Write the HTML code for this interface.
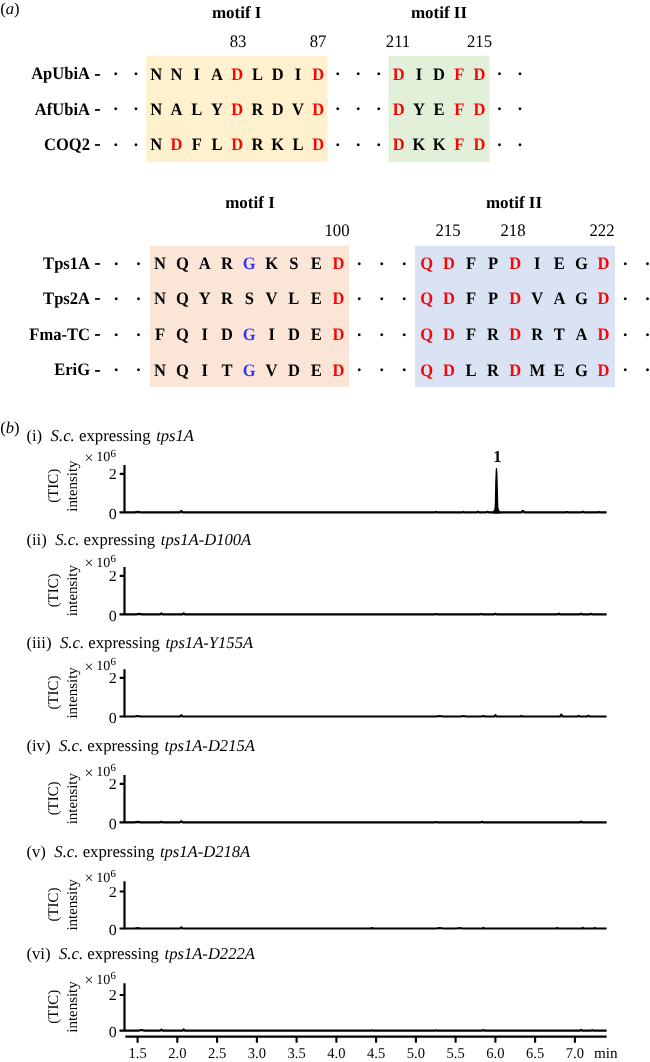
<!DOCTYPE html>
<html lang="en">
<head>
<meta charset="utf-8">
<title>Motif alignment and GC-MS chromatograms</title>
<style>
html,body{margin:0;padding:0;background:#fff}
body{width:650px;height:1062px;overflow:hidden;position:relative}
svg{display:block;position:absolute;left:0;top:0}
text{font-family:"Liberation Serif", "DejaVu Serif", serif;white-space:pre;text-rendering:geometricPrecision}
</style>
</head>
<body>
<svg width="650" height="1062" viewBox="0 0 650 1062">
<rect x="146.1" y="55.8" width="181.4" height="106.3" fill="#fff1cd"/>
<rect x="388.4" y="55.8" width="101.1" height="106.3" fill="#e2efd9"/>
<rect x="149.8" y="245.7" width="199.3" height="141.2" fill="#fbe5d6"/>
<rect x="415" y="245.7" width="200" height="141.4" fill="#dae3f3"/>
<text x="0.2" y="13.9" font-size="16.6">(<tspan font-style="italic">a</tspan>)</text>
<text x="236.7" y="18.1" font-size="17" text-anchor="middle" font-weight="bold">motif I</text>
<text x="439" y="18.1" font-size="17" text-anchor="middle" font-weight="bold">motif II</text>
<text transform="translate(238 46.8) scale(0.95 1)" font-size="17.6" text-anchor="middle">83</text>
<text transform="translate(318 46.8) scale(0.95 1)" font-size="17.6" text-anchor="middle">87</text>
<text transform="translate(398 46.8) scale(0.95 1)" font-size="17.6" text-anchor="middle">211</text>
<text transform="translate(479.5 46.8) scale(0.95 1)" font-size="17.6" text-anchor="middle">215</text>
<text transform="scale(0.945 1)" font-size="17.5" font-weight="bold" text-anchor="middle"><tspan text-anchor="end" x="95.24" y="79.4">ApUbiA</tspan><tspan text-anchor="end" x="106.14" y="78.7" stroke="#000" stroke-width="0.5">-</tspan><tspan x="122.54 143.92" y="80" font-size="19">··</tspan><tspan x="165.40 186.83 208.25 229.68" y="79.7">NNIA</tspan><tspan x="251.11" y="79.7" fill="#fa0505">D</tspan><tspan x="272.54 293.97 315.40" y="79.7">LDI</tspan><tspan x="336.83" y="79.7" fill="#fa0505">D</tspan><tspan x="357.35 379.05 400.74" y="80" font-size="19">···</tspan><tspan x="421.90" y="79.7" fill="#fa0505">D</tspan><tspan x="443.28 464.66" y="79.7">ID</tspan><tspan x="486.03 507.41" y="79.7" fill="#fa0505">FD</tspan><tspan x="528.57 550.26" y="80" font-size="19">··</tspan></text>
<text transform="scale(0.945 1)" font-size="17.5" font-weight="bold" text-anchor="middle"><tspan text-anchor="end" x="95.24" y="114.7">AfUbiA</tspan><tspan text-anchor="end" x="106.14" y="114" stroke="#000" stroke-width="0.5">-</tspan><tspan x="122.54 143.92" y="115.3" font-size="19">··</tspan><tspan x="165.40 186.83 208.25 229.68" y="115">NALY</tspan><tspan x="251.11" y="115" fill="#fa0505">D</tspan><tspan x="272.54 293.97 315.40" y="115">RDV</tspan><tspan x="336.83" y="115" fill="#fa0505">D</tspan><tspan x="357.35 379.05 400.74" y="115.3" font-size="19">···</tspan><tspan x="421.90" y="115" fill="#fa0505">D</tspan><tspan x="443.28 464.66" y="115">YE</tspan><tspan x="486.03 507.41" y="115" fill="#fa0505">FD</tspan><tspan x="528.57 550.26" y="115.3" font-size="19">··</tspan></text>
<text transform="scale(0.945 1)" font-size="17.5" font-weight="bold" text-anchor="middle"><tspan text-anchor="end" x="95.24" y="150">COQ2</tspan><tspan text-anchor="end" x="106.14" y="149.3" stroke="#000" stroke-width="0.5">-</tspan><tspan x="122.54 143.92" y="150.6" font-size="19">··</tspan><tspan x="165.40" y="150.3">N</tspan><tspan x="186.83" y="150.3" fill="#fa0505">D</tspan><tspan x="208.25 229.68" y="150.3">FL</tspan><tspan x="251.11" y="150.3" fill="#fa0505">D</tspan><tspan x="272.54 293.97 315.40" y="150.3">RKL</tspan><tspan x="336.83" y="150.3" fill="#fa0505">D</tspan><tspan x="357.35 379.05 400.74" y="150.6" font-size="19">···</tspan><tspan x="421.90" y="150.3" fill="#fa0505">D</tspan><tspan x="443.28 464.66" y="150.3">KK</tspan><tspan x="486.03 507.41" y="150.3" fill="#fa0505">FD</tspan><tspan x="528.57 550.26" y="150.6" font-size="19">··</tspan></text>
<text x="250" y="208" font-size="17" text-anchor="middle" font-weight="bold">motif I</text>
<text x="514" y="208" font-size="17" text-anchor="middle" font-weight="bold">motif II</text>
<text transform="translate(337 235.5) scale(0.95 1)" font-size="17.6" text-anchor="middle">100</text>
<text transform="translate(448 235.5) scale(0.95 1)" font-size="17.6" text-anchor="middle">215</text>
<text transform="translate(513 235.5) scale(0.95 1)" font-size="17.6" text-anchor="middle">218</text>
<text transform="translate(602 235.5) scale(0.95 1)" font-size="17.6" text-anchor="middle">222</text>
<text transform="scale(0.945 1)" font-size="17.5" font-weight="bold" text-anchor="middle"><tspan text-anchor="end" x="95.24" y="269">Tps1A</tspan><tspan text-anchor="end" x="106.14" y="268.3" stroke="#000" stroke-width="0.5">-</tspan><tspan x="123.07 146.56" y="269.6" font-size="19">··</tspan><tspan x="169.42 193.02 216.61 240.21" y="269.3">NQAR</tspan><tspan x="263.81" y="269.3" fill="#3333ff">G</tspan><tspan x="287.41 311.01 334.60" y="269.3">KSE</tspan><tspan x="358.20" y="269.3" fill="#fa0505">D</tspan><tspan x="380.21 404.02 427.83" y="269.6" font-size="19">···</tspan><tspan x="451.64 475.03" y="269.3" fill="#fa0505">QD</tspan><tspan x="498.41 521.80" y="269.3">FP</tspan><tspan x="545.19" y="269.3" fill="#fa0505">D</tspan><tspan x="568.57 591.96 615.34" y="269.3">IEG</tspan><tspan x="638.73" y="269.3" fill="#fa0505">D</tspan><tspan x="661.69 685.19" y="269.6" font-size="19">··</tspan></text>
<text transform="scale(0.945 1)" font-size="17.5" font-weight="bold" text-anchor="middle"><tspan text-anchor="end" x="95.24" y="303.9">Tps2A</tspan><tspan text-anchor="end" x="106.14" y="303.2" stroke="#000" stroke-width="0.5">-</tspan><tspan x="123.07 146.56" y="304.5" font-size="19">··</tspan><tspan x="169.42 193.02 216.61 240.21 263.81 287.41 311.01 334.60" y="304.2">NQYRSVLE</tspan><tspan x="358.20" y="304.2" fill="#fa0505">D</tspan><tspan x="380.21 404.02 427.83" y="304.5" font-size="19">···</tspan><tspan x="451.64 475.03" y="304.2" fill="#fa0505">QD</tspan><tspan x="498.41 521.80" y="304.2">FP</tspan><tspan x="545.19" y="304.2" fill="#fa0505">D</tspan><tspan x="568.57 591.96 615.34" y="304.2">VAG</tspan><tspan x="638.73" y="304.2" fill="#fa0505">D</tspan><tspan x="661.69 685.19" y="304.5" font-size="19">··</tspan></text>
<text transform="scale(0.945 1)" font-size="17.5" font-weight="bold" text-anchor="middle"><tspan text-anchor="end" x="95.24" y="339.9">Fma-TC</tspan><tspan text-anchor="end" x="106.14" y="339.2" stroke="#000" stroke-width="0.5">-</tspan><tspan x="123.07 146.56" y="340.5" font-size="19">··</tspan><tspan x="169.42 193.02 216.61 240.21" y="340.2">FQID</tspan><tspan x="263.81" y="340.2" fill="#3333ff">G</tspan><tspan x="287.41 311.01 334.60" y="340.2">IDE</tspan><tspan x="358.20" y="340.2" fill="#fa0505">D</tspan><tspan x="380.21 404.02 427.83" y="340.5" font-size="19">···</tspan><tspan x="451.64 475.03" y="340.2" fill="#fa0505">QD</tspan><tspan x="498.41 521.80" y="340.2">FR</tspan><tspan x="545.19" y="340.2" fill="#fa0505">D</tspan><tspan x="568.57 591.96 615.34" y="340.2">RTA</tspan><tspan x="638.73" y="340.2" fill="#fa0505">D</tspan><tspan x="661.69 685.19" y="340.5" font-size="19">··</tspan></text>
<text transform="scale(0.945 1)" font-size="17.5" font-weight="bold" text-anchor="middle"><tspan text-anchor="end" x="95.24" y="375.4">EriG</tspan><tspan text-anchor="end" x="106.14" y="374.7" stroke="#000" stroke-width="0.5">-</tspan><tspan x="123.07 146.56" y="376" font-size="19">··</tspan><tspan x="169.42 193.02 216.61 240.21" y="375.7">NQIT</tspan><tspan x="263.81" y="375.7" fill="#3333ff">G</tspan><tspan x="287.41 311.01 334.60" y="375.7">VDE</tspan><tspan x="358.20" y="375.7" fill="#fa0505">D</tspan><tspan x="380.21 404.02 427.83" y="376" font-size="19">···</tspan><tspan x="451.64 475.03" y="375.7" fill="#fa0505">QD</tspan><tspan x="498.41 521.80" y="375.7">LR</tspan><tspan x="545.19" y="375.7" fill="#fa0505">D</tspan><tspan x="568.57 591.96 615.34" y="375.7">MEG</tspan><tspan x="638.73" y="375.7" fill="#fa0505">D</tspan><tspan x="661.69 685.19" y="376" font-size="19">··</tspan></text>
<text x="0.2" y="432.6" font-size="16.6">(<tspan font-style="italic">b</tspan>)</text>
<text x="26.4" y="440.5" font-size="16.75">(i)&#160; <tspan font-style="italic">S.c.</tspan> expressing <tspan font-style="italic" dx="1.4" font-size="16.6">tps1A</tspan></text>
<text><tspan x="84.5" y="463" font-size="15.8">×</tspan><tspan x="92.75" y="461.3" font-size="14.1"> 10</tspan><tspan x="110.4" y="457.2" font-size="10.9">6</tspan></text>
<text transform="translate(116.7 478.9) scale(1.05 1)" font-size="15.3" text-anchor="end">2</text>
<text transform="translate(116.7 519) scale(1.05 1)" font-size="15.3" text-anchor="end">0</text>
<text transform="translate(58 485.8) rotate(-90)" font-size="14.9" text-anchor="middle">(TIC)</text>
<text transform="translate(77 486.1) rotate(-90)" font-size="14.9" text-anchor="middle">intensity</text>
<path d="M124.5 465V513.3M119.7 473.8H124.5M119.5 512.3H124.5" stroke="#000" stroke-width="2.2" fill="none"/>
<path d="M124.5 512.3L134.6 512.3L137.6 511.8L140.6 512.3L180.1 512.3L181.3 511L182.5 512.3L434.7 512.3L435.7 511.9L436.7 512.3L462.5 512.3L463.5 511.9L464.5 512.3L476.9 512.3L477.9 511.8L478.9 512.3L486.4 512.3L487.4 511.8L488.4 512.3L521.6 512.3L522.8 510.8L524.0 512.3L565.9 512.3L566.9 511.9L567.9 512.3L581.8 512.3L582.8 511.8L583.8 512.3L597.7 512.3L598.7 511.9L599.7 512.3L606.6 512.3" stroke="#000" stroke-width="2.2" stroke-linejoin="round" fill="none"/>
<text x="26.4" y="544.9" font-size="16.75">(ii)&#160; <tspan font-style="italic">S.c.</tspan> expressing <tspan font-style="italic" dx="1.4" font-size="16.6">tps1A-D100A</tspan></text>
<text><tspan x="84.5" y="568.4" font-size="15.8">×</tspan><tspan x="92.75" y="566.7" font-size="14.1"> 10</tspan><tspan x="110.4" y="561.8" font-size="10.9">6</tspan></text>
<text transform="translate(116.7 580.9) scale(1.05 1)" font-size="15.3" text-anchor="end">2</text>
<text transform="translate(116.7 621) scale(1.05 1)" font-size="15.3" text-anchor="end">0</text>
<text transform="translate(58 590.4) rotate(-90)" font-size="14.9" text-anchor="middle">(TIC)</text>
<text transform="translate(77 590.7) rotate(-90)" font-size="14.9" text-anchor="middle">intensity</text>
<path d="M124.5 567V615.3M119.7 575.8H124.5M119.5 614.3H124.5" stroke="#000" stroke-width="2.2" fill="none"/>
<path d="M124.5 614.3L136.2 614.3L139.2 613.8L142.2 614.3L160.2 614.3L161.4 613.5L162.6 614.3L182.5 614.3L183.7 613.3L184.9 614.3L434.7 614.3L435.7 614L436.7 614.3L480.0 614.3L481.0 613.9L482.0 614.3L494.4 614.3L495.4 613.8L496.4 614.3L557.9 614.3L558.9 613.6L559.9 614.3L580.2 614.3L581.2 613.8L582.2 614.3L589.8 614.3L590.8 613.8L591.8 614.3L606.6 614.3" stroke="#000" stroke-width="2.2" stroke-linejoin="round" fill="none"/>
<text x="26.4" y="647.7" font-size="16.75">(iii)&#160; <tspan font-style="italic">S.c.</tspan> expressing <tspan font-style="italic" dx="1.4" font-size="16.6">tps1A-Y155A</tspan></text>
<text><tspan x="84.5" y="671.9" font-size="15.8">×</tspan><tspan x="92.75" y="670.2" font-size="14.1"> 10</tspan><tspan x="110.4" y="665.3" font-size="10.9">6</tspan></text>
<text transform="translate(116.7 683) scale(1.05 1)" font-size="15.3" text-anchor="end">2</text>
<text transform="translate(116.7 723.2) scale(1.05 1)" font-size="15.3" text-anchor="end">0</text>
<text transform="translate(58 692.6) rotate(-90)" font-size="14.9" text-anchor="middle">(TIC)</text>
<text transform="translate(77 692.9) rotate(-90)" font-size="14.9" text-anchor="middle">intensity</text>
<path d="M124.5 669.2V717.5M119.7 677.9H124.5M119.5 716.5H124.5" stroke="#000" stroke-width="2.2" fill="none"/>
<path d="M124.5 716.5L134.6 716.5L137.6 716L140.6 716.5L180.1 716.5L181.3 715.2L182.5 716.5L435.7 716.5L439.7 716L443.7 716.5L460.5 716.5L463.5 716L466.5 716.5L481.4 716.5L483.4 716L485.4 716.5L494.2 716.5L495.4 715.1L496.6 716.5L520.4 716.5L521.6 715.9L522.8 716.5L560.1 716.5L561.3 714.6L562.5 716.5L577.3 716.5L578.8 715.9L580.3 716.5L586.9 716.5L588.4 715.8L589.9 716.5L606.6 716.5" stroke="#000" stroke-width="2.2" stroke-linejoin="round" fill="none"/>
<text x="26.4" y="750.5" font-size="16.75">(iv)&#160; <tspan font-style="italic">S.c.</tspan> expressing <tspan font-style="italic" dx="1.4" font-size="16.6">tps1A-D215A</tspan></text>
<text><tspan x="84.5" y="777.9" font-size="15.8">×</tspan><tspan x="92.75" y="776.2" font-size="14.1"> 10</tspan><tspan x="110.4" y="771.3" font-size="10.9">6</tspan></text>
<text transform="translate(116.7 788.9) scale(1.05 1)" font-size="15.3" text-anchor="end">2</text>
<text transform="translate(116.7 829) scale(1.05 1)" font-size="15.3" text-anchor="end">0</text>
<text transform="translate(58 798.4) rotate(-90)" font-size="14.9" text-anchor="middle">(TIC)</text>
<text transform="translate(77 798.7) rotate(-90)" font-size="14.9" text-anchor="middle">intensity</text>
<path d="M124.5 775V823.3M119.7 783.8H124.5M119.5 822.3H124.5" stroke="#000" stroke-width="2.2" fill="none"/>
<path d="M124.5 822.3L134.6 822.3L137.6 821.9L140.6 822.3L160.2 822.3L161.4 821.9L162.6 822.3L180.1 822.3L181.3 821.2L182.5 822.3L434.7 822.3L435.7 822L436.7 822.3L480.8 822.3L481.8 821.8L482.8 822.3L580.2 822.3L581.2 821.7L582.2 822.3L606.6 822.3" stroke="#000" stroke-width="2.2" stroke-linejoin="round" fill="none"/>
<text x="26.4" y="857.1" font-size="16.75">(v)&#160; <tspan font-style="italic">S.c.</tspan> expressing <tspan font-style="italic" dx="1.4" font-size="16.6">tps1A-D218A</tspan></text>
<text><tspan x="84.5" y="883.4" font-size="15.8">×</tspan><tspan x="92.75" y="881.7" font-size="14.1"> 10</tspan><tspan x="110.4" y="876.8" font-size="10.9">6</tspan></text>
<text transform="translate(116.7 896.6) scale(1.05 1)" font-size="15.3" text-anchor="end">2</text>
<text transform="translate(116.7 935.2) scale(1.05 1)" font-size="15.3" text-anchor="end">0</text>
<text transform="translate(58 904.6) rotate(-90)" font-size="14.9" text-anchor="middle">(TIC)</text>
<text transform="translate(77 904.9) rotate(-90)" font-size="14.9" text-anchor="middle">intensity</text>
<path d="M124.5 881.2V929.5M119.7 891.5H124.5M119.5 928.5H124.5" stroke="#000" stroke-width="2.2" fill="none"/>
<path d="M124.5 928.5L134.6 928.5L137.6 928.1L140.6 928.5L180.1 928.5L181.3 927.4L182.5 928.5L370.6 928.5L372.1 928.1L373.6 928.5L435.7 928.5L439.7 928L443.7 928.5L456.6 928.5L459.6 928L462.6 928.5L482.4 928.5L483.4 927.9L484.4 928.5L556.4 928.5L557.4 928L558.4 928.5L581.8 928.5L582.8 927.9L583.8 928.5L593.7 928.5L594.7 928.1L595.7 928.5L606.6 928.5" stroke="#000" stroke-width="2.2" stroke-linejoin="round" fill="none"/>
<text x="26.4" y="958.5" font-size="16.75">(vi)&#160; <tspan font-style="italic">S.c.</tspan> expressing <tspan font-style="italic" dx="1.4" font-size="16.6">tps1A-D222A</tspan></text>
<text><tspan x="84.5" y="985.4" font-size="15.8">×</tspan><tspan x="92.75" y="983.7" font-size="14.1"> 10</tspan><tspan x="110.4" y="978.8" font-size="10.9">6</tspan></text>
<text transform="translate(116.7 1000.1) scale(1.05 1)" font-size="15.3" text-anchor="end">2</text>
<text transform="translate(116.7 1037.3) scale(1.05 1)" font-size="15.3" text-anchor="end">0</text>
<text transform="translate(58 1006.7) rotate(-90)" font-size="14.9" text-anchor="middle">(TIC)</text>
<text transform="translate(77 1007) rotate(-90)" font-size="14.9" text-anchor="middle">intensity</text>
<path d="M124.5 983.3V1031.6M119.7 995H124.5M119.5 1030.6H124.5" stroke="#000" stroke-width="2.2" fill="none"/>
<path d="M124.5 1030.6L138.6 1030.6L141.6 1030L144.6 1030.6L160.2 1030.6L161.4 1029.7L162.6 1030.6L182.5 1030.6L183.7 1029.5L184.9 1030.6L371.1 1030.6L372.1 1030.3L373.1 1030.6L434.7 1030.6L435.7 1030.3L436.7 1030.6L482.4 1030.6L483.4 1030L484.4 1030.6L580.2 1030.6L581.2 1029.9L582.2 1030.6L591.3 1030.6L592.3 1030.2L593.3 1030.6L606.6 1030.6" stroke="#000" stroke-width="2.2" stroke-linejoin="round" fill="none"/>
<path d="M495.9 468.1L495.6 472.3L495.2 482.3L495.0 492.3L494.8 502.3L494.6 507.3L494.1 509.8L493.2 511.1L492.8 513.4L500.2 513.4L499.8 511.1L498.9 509.8L498.4 507.3L498.2 502.3L498.0 492.3L497.7 482.3L497.4 472.3L497.0 468.1Z" fill="#000"/>
<text x="497.4" y="461.9" font-size="16.6" text-anchor="middle" font-weight="bold">1</text>
<path d="M125.4 1036.7H606.6" stroke="#000" stroke-width="2.2" fill="none"/>
<text transform="translate(137.6 1058.4) scale(0.97 1)" font-size="15" text-anchor="middle">1.5</text>
<text transform="translate(177.35 1058.4) scale(0.97 1)" font-size="15" text-anchor="middle">2.0</text>
<text transform="translate(217.1 1058.4) scale(0.97 1)" font-size="15" text-anchor="middle">2.5</text>
<text transform="translate(256.85 1058.4) scale(0.97 1)" font-size="15" text-anchor="middle">3.0</text>
<text transform="translate(296.6 1058.4) scale(0.97 1)" font-size="15" text-anchor="middle">3.5</text>
<text transform="translate(336.35 1058.4) scale(0.97 1)" font-size="15" text-anchor="middle">4.0</text>
<text transform="translate(376.1 1058.4) scale(0.97 1)" font-size="15" text-anchor="middle">4.5</text>
<text transform="translate(415.85 1058.4) scale(0.97 1)" font-size="15" text-anchor="middle">5.0</text>
<text transform="translate(455.6 1058.4) scale(0.97 1)" font-size="15" text-anchor="middle">5.5</text>
<text transform="translate(495.35 1058.4) scale(0.97 1)" font-size="15" text-anchor="middle">6.0</text>
<text transform="translate(535.1 1058.4) scale(0.97 1)" font-size="15" text-anchor="middle">6.5</text>
<text transform="translate(574.85 1058.4) scale(0.97 1)" font-size="15" text-anchor="middle">7.0</text>
<path d="M137.6 1036.7V1042.7M177.3 1036.7V1042.7M217.1 1036.7V1042.7M256.9 1036.7V1042.7M296.6 1036.7V1042.7M336.4 1036.7V1042.7M376.1 1036.7V1042.7M415.9 1036.7V1042.7M455.6 1036.7V1042.7M495.4 1036.7V1042.7M535.1 1036.7V1042.7M574.9 1036.7V1042.7" stroke="#000" stroke-width="2.1" fill="none"/>
<text x="605.7" y="1058.4" font-size="15.2" text-anchor="middle">min</text>
</svg>
</body>
</html>
